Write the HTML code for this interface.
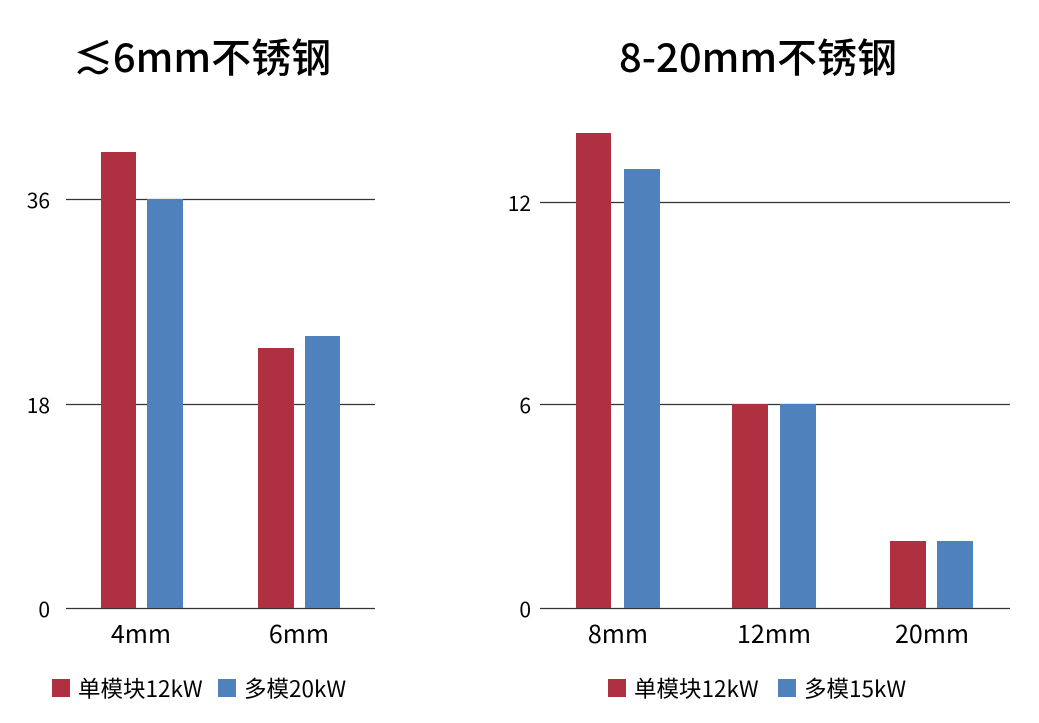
<!DOCTYPE html>
<html><head><meta charset="utf-8"><style>
html,body{margin:0;padding:0;background:#fff;}
svg{display:block;font-family:"Noto Sans CJK SC","Liberation Sans",sans-serif;}
</style></head><body>
<svg width="1039" height="723" viewBox="0 0 1039 723">
<g fill="#000" font-weight="500">
<text x="202" y="72" font-size="40" text-anchor="middle">≲6mm不锈钢</text>
<text x="758" y="72" font-size="40" text-anchor="middle">8-20mm不锈钢</text>
</g>
<g stroke="#333" stroke-width="1.2">
<line x1="66" y1="199.5" x2="375" y2="199.5"/>
<line x1="66" y1="404.5" x2="375" y2="404.5"/>
<line x1="66" y1="608.5" x2="375" y2="608.5"/>
<line x1="540" y1="202.5" x2="1010" y2="202.5"/>
<line x1="540" y1="404.5" x2="1010" y2="404.5"/>
<line x1="540" y1="608.5" x2="1010" y2="608.5"/>
</g>
<g fill="#af3041">
<rect x="101" y="152" width="35" height="456"/>
<rect x="258" y="348" width="36" height="260"/>
<rect x="576" y="133" width="35" height="475"/>
<rect x="732" y="404" width="36" height="204"/>
<rect x="890" y="541" width="36" height="67"/>
</g>
<g fill="#4f81bd">
<rect x="147" y="199" width="36" height="409"/>
<rect x="305" y="336" width="35" height="272"/>
<rect x="624" y="169" width="36" height="439"/>
<rect x="780" y="404" width="36" height="204"/>
<rect x="937" y="541" width="36" height="67"/>
</g>
<g font-size="21" fill="#000" text-anchor="end">
<text x="50" y="208">36</text>
<text x="50" y="413">18</text>
<text x="50" y="617">0</text>
<text x="531" y="211">12</text>
<text x="531" y="413">6</text>
<text x="531" y="617">0</text>
</g>
<g font-size="25" fill="#000" text-anchor="middle">
<text x="141" y="643">4mm</text>
<text x="299" y="643">6mm</text>
<text x="618" y="643">8mm</text>
<text x="774" y="643">12mm</text>
<text x="932" y="643">20mm</text>
</g>
<rect x="52" y="679" width="18" height="18" fill="#af3041"/>
<rect x="218" y="679" width="18" height="18" fill="#4f81bd"/>
<rect x="608" y="679" width="18" height="18" fill="#af3041"/>
<rect x="778" y="679" width="18" height="18" fill="#4f81bd"/>
<g font-size="22.5" fill="#000">
<text x="78" y="697">单模块12kW</text>
<text x="244" y="697">多模20kW</text>
<text x="634" y="697">单模块12kW</text>
<text x="804" y="697">多模15kW</text>
</g>
</svg>
</body></html>
